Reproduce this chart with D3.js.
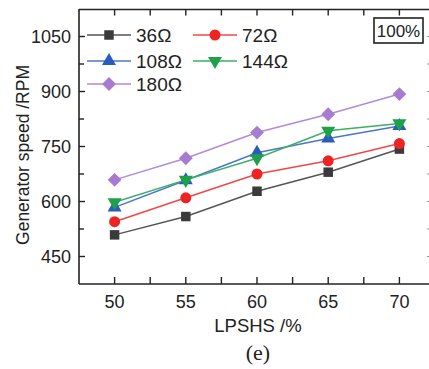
<!DOCTYPE html>
<html>
<head>
<meta charset="utf-8">
<script src="https://cdn.jsdelivr.net/npm/d3@7"></script>
<style>
  html, body { margin: 0; padding: 0; background: #fff; }
  text { font-family: "Liberation Sans", Arial, sans-serif; fill: #222; }
</style>
</head>
<body>
<div id="chart"></div>
<script>
const lpshs = [50, 55, 60, 65, 70];
const xTicks = [50, 55, 60, 65, 70];
const yTicks = [450, 600, 750, 900, 1050];
const loads = ["36Ω", "72Ω", "108Ω", "144Ω", "180Ω"];
const speed36 = [509, 559, 628, 680, 743];
const speed72 = [545, 610, 675, 711, 758];
const speed108 = [584, 658, 733, 772, 806];
const speed144 = [598, 659, 718, 793, 813];
const speed180 = [659, 718, 788, 838, 893];

const series = [
  { name: loads[0], values: speed36, line: "#555555", fill: "#3a3a3a", shape: "square" },
  { name: loads[1], values: speed72, line: "#f04848", fill: "#ee2424", shape: "circle" },
  { name: loads[2], values: speed108, line: "#4a78c8", fill: "#2a5cc0", shape: "up" },
  { name: loads[3], values: speed144, line: "#3cb064", fill: "#1fa04a", shape: "down" },
  { name: loads[4], values: speed180, line: "#b48ad8", fill: "#a77bd0", shape: "diamond" }
];

const W = 429, H = 369;
const svg = d3.select("#chart").append("svg")
  .attr("width", W).attr("height", H);

const x = d3.scaleLinear().domain([47.5, 72.5]).range([79, 435]);
const y = d3.scaleLinear().domain([375, 1125]).range([284, 9]);

function markerPath(shape) {
  if (shape === "square") return d3.symbol(d3.symbolSquare, 90)();
  if (shape === "circle") return d3.symbol(d3.symbolCircle, 95)();
  if (shape === "up" || shape === "down") return d3.symbol(d3.symbolTriangle, 85)();
  return d3.symbol(d3.symbolSquare, 95)();
}
function markerRotate(shape) {
  if (shape === "down") return 180;
  if (shape === "diamond") return 45;
  return 0;
}

// frame
const frame = svg.append("g");
frame.append("line").attr("x1", 79).attr("x2", 79).attr("y1", 9).attr("y2", 284)
  .attr("stroke", "#222").attr("stroke-width", 1.6);
frame.append("line").attr("x1", 79).attr("x2", 435).attr("y1", 284).attr("y2", 284)
  .attr("stroke", "#222").attr("stroke-width", 1.6);
frame.append("line").attr("x1", 79).attr("x2", 435).attr("y1", 9.5).attr("y2", 9.5)
  .attr("stroke", "#222").attr("stroke-width", 1.6);

const xMinor = d3.range(47.5, 72.6, 2.5);
const yMinor = d3.range(375, 1126, 75);

// bottom & top ticks (inward)
xMinor.forEach(v => {
  if (v <= 47.5 || v >= 72.5) return;
  frame.append("line").attr("x1", x(v)).attr("x2", x(v)).attr("y1", 284).attr("y2", 277)
    .attr("stroke", "#222").attr("stroke-width", 1.4);
  frame.append("line").attr("x1", x(v)).attr("x2", x(v)).attr("y1", 9.5).attr("y2", 15.5)
    .attr("stroke", "#222").attr("stroke-width", 1.4);
});
// left ticks (inward) + faint right ticks
yMinor.forEach(v => {
  if (v <= 375 || v >= 1125) return;
  const major = yTicks.includes(v);
  frame.append("line").attr("x1", 79).attr("x2", major ? 85 : 84).attr("y1", y(v)).attr("y2", y(v))
    .attr("stroke", "#222").attr("stroke-width", 1.4);
  frame.append("line").attr("x1", 427).attr("x2", 435).attr("y1", y(v)).attr("y2", y(v))
    .attr("stroke", "#999").attr("stroke-width", 1.2);
});

// tick labels
svg.append("g").selectAll("text").data(xTicks).enter().append("text")
  .attr("x", d => x(d)).attr("y", 308)
  .attr("text-anchor", "middle").style("font-size", "18px")
  .text(d => d);
svg.append("g").selectAll("text").data(yTicks).enter().append("text")
  .attr("x", 71).attr("y", d => y(d) + 6.5)
  .attr("text-anchor", "end").style("font-size", "18px")
  .text(d => d);

// axis titles
svg.append("text").attr("x", 258).attr("y", 332)
  .attr("text-anchor", "middle").style("font-size", "18.5px")
  .text("LPSHS /%");
svg.append("text")
  .attr("transform", "translate(29,155) rotate(-90)")
  .attr("text-anchor", "middle").style("font-size", "17.5px")
  .text("Generator speed /RPM");
svg.append("text").attr("x", 258).attr("y", 360)
  .attr("text-anchor", "middle")
  .style("font-family", "'Liberation Serif', 'Times New Roman', serif")
  .style("font-size", "22px")
  .text("(e)");

// series
const line = d3.line().x((d, i) => x(lpshs[i])).y(d => y(d));
series.forEach(s => {
  svg.append("path").datum(s.values)
    .attr("d", line).attr("fill", "none")
    .attr("stroke", s.line).attr("stroke-width", 1.5);
  svg.append("g").selectAll("path").data(s.values).enter().append("path")
    .attr("d", markerPath(s.shape))
    .attr("transform", (d, i) => `translate(${x(lpshs[i])},${y(d)}) rotate(${markerRotate(s.shape)})`)
    .attr("fill", s.fill);
});

// legend
const legendPos = [
  { lx: 87, ly: 35 }, { lx: 193, ly: 35 },
  { lx: 87, ly: 61 }, { lx: 193, ly: 61 },
  { lx: 87, ly: 84 }
];
series.forEach((s, i) => {
  const p = legendPos[i];
  const g = svg.append("g").attr("transform", `translate(${p.lx},${p.ly})`);
  g.append("line").attr("x1", 0).attr("x2", 44).attr("y1", 0).attr("y2", 0)
    .attr("stroke", s.line).attr("stroke-width", 1.5);
  g.append("path").attr("d", markerPath(s.shape))
    .attr("transform", `translate(22,0) rotate(${markerRotate(s.shape)})`)
    .attr("fill", s.fill);
  g.append("text").attr("x", 49).attr("y", 6.8)
    .style("font-size", "19px").text(s.name);
});

// 100% label box
svg.append("rect").attr("x", 374).attr("y", 18).attr("width", 49).attr("height", 25)
  .attr("fill", "#fff").attr("stroke", "#222").attr("stroke-width", 1.6);
svg.append("text").attr("x", 398.5).attr("y", 37)
  .attr("text-anchor", "middle").style("font-size", "17px")
  .text("100%");
</script>
</body>
</html>
